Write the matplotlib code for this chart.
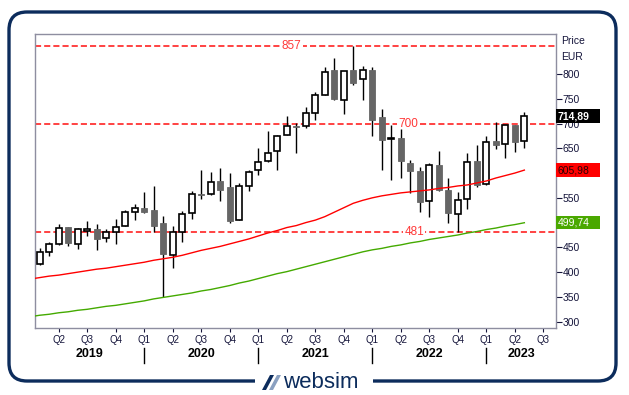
import numpy as np
import matplotlib
matplotlib.use("Agg")
import matplotlib.pyplot as plt
from matplotlib.patches import Rectangle, FancyBboxPatch, Polygon
from matplotlib.transforms import Affine2D, blended_transform_factory

plt.rcParams["font.family"] = ["Liberation Sans", "DejaVu Sans"]

# monthly candles, Feb 2019 .. May 2023 (month index 0 = Jan 2019)
first_month = 1
opens = [416, 440, 456, 491, 457, 484, 487, 468, 481, 494, 521,
         530, 526, 499, 434, 482, 519, 558, 557, 584, 572, 506, 573,
         606, 624, 644, 676, 695, 694, 721, 757, 808, 747, 808, 789,
         808, 713, 668, 670, 620, 604, 544, 616, 566, 517, 548, 624,
         577, 665, 658, 697, 664]
highs = [448, 461, 497, 491, 489, 503, 497, 487, 507, 525, 538,
         561, 574, 513, 493, 523, 563, 606, 602, 611, 600, 579, 606,
         651, 685, 676, 715, 701, 734, 764, 814, 832, 807, 857, 816,
         814, 729, 698, 688, 626, 612, 621, 645, 591, 562, 641, 657,
         675, 703, 697, 697, 723]
lows = [415, 433, 455, 453, 447, 472, 445, 461, 457, 494, 506,
        519, 481, 349, 409, 460, 508, 548, 556, 544, 499, 505, 564,
        597, 623, 607, 676, 640, 690, 707, 757, 747, 720, 777, 748,
        674, 607, 587, 591, 559, 522, 511, 563, 500, 481, 527, 572,
        576, 649, 631, 643, 651]
closes = [440, 456, 490, 458, 487, 487, 466, 481, 492, 521, 529,
          522, 493, 437, 482, 517, 557, 556, 581, 566, 503, 573, 602,
          622, 640, 674, 694, 693, 721, 757, 803, 750, 805, 782, 808,
          708, 666, 670, 624, 604, 542, 616, 566, 519, 546, 622, 575,
          662, 657, 696, 663, 714.89]

# moving averages, Jan 2019 .. May 2023
red_ma = [386, 389, 392, 394, 397, 400, 403, 406, 408, 411, 414, 417,
          420, 424, 427, 430, 434, 439, 444, 448, 452, 457, 462, 467,
          473, 479, 484, 490, 494, 500, 505, 512, 521, 530, 539, 545,
          550, 554, 557, 560, 562, 564, 566, 569, 571, 574, 576, 580,
          584, 590, 595, 600, 605.98]
green_ma = [310, 313, 315, 318, 320, 323, 325, 328, 331, 333, 336, 339,
            342, 346, 349, 352, 355, 358, 362, 365, 369, 373, 378, 382,
            387, 392, 397, 401, 406, 411, 416, 421, 426, 431, 436, 441,
            445, 448, 452, 455, 459, 462, 466, 469, 472, 475, 479, 482,
            486, 489, 493, 496, 499.74]

levels = [857, 700, 481]
level_label_x = [27.5, 39.8, 40.4]
years = [2019, 2020, 2021, 2022, 2023]

NAVY = "#0c2c5c"
TXT = "#14143a"

fig = plt.figure(figsize=(6.29, 3.95), dpi=100)
ax = fig.add_axes([0.0561, 0.1689, 0.8274, 0.7443])
x0, x1 = 0.54, 55.3
ax.set_xlim(x0, x1)
ax.set_ylim(286.7, 880.1)

# support / resistance levels
for v, lx in zip(levels, level_label_x):
    ax.axhline(v, color="#ff1010", lw=1.1, dashes=(4, 2), zorder=1)
    ax.text(lx, v, f"{v}", color="#ff3838", fontsize=8.5, ha="center",
            va="center", zorder=2,
            bbox=dict(fc="white", ec="none", pad=1))

# candles
xs = np.arange(len(opens)) + first_month
o = np.array(opens); c = np.array(closes)
h = np.array(highs); l = np.array(lows)
up = c >= o
ax.vlines(xs, l, h, color="black", lw=1.0, zorder=3)
body_lo = np.minimum(o, c)
body_h = np.maximum(np.abs(c - o), 1.5)
ax.bar(xs[up], body_h[up], bottom=body_lo[up], width=0.66,
       color="white", edgecolor="black", linewidth=1.2, zorder=4)
ax.bar(xs[~up], body_h[~up], bottom=body_lo[~up], width=0.66,
       color="#666666", edgecolor="#666666", linewidth=0.6, zorder=4)

# moving averages
ma_x = np.arange(len(red_ma))
ax.plot(ma_x, red_ma, color="#ff0000", lw=1.0, zorder=5)
ax.plot(ma_x, green_ma, color="#44aa00", lw=1.0, zorder=5)

# frame
for s in ax.spines.values():
    s.set_color("#8e8ea0")
    s.set_linewidth(1.0)

# right price axis
ax.yaxis.tick_right()
ax.set_yticks(range(300, 801, 50))
ax.tick_params(axis="y", direction="out", length=4, width=0.8, colors=TXT,
               labelsize=7.5, pad=1)

# quarter ticks
qticks = list(range(3, 55, 3))
ax.set_xticks(qticks)
ax.set_xticklabels([f"Q{(m % 12) // 3 + 1}" for m in qticks])
ax.tick_params(axis="x", direction="out", length=3, width=0.8, colors=TXT,
               labelsize=7, pad=2)

# year labels and separators
btrans = blended_transform_factory(ax.transData, ax.transAxes)
for yr in years:
    start = 12 * (yr - 2019)
    a, b = max(x0, start), min(x1, start + 12)
    ax.annotate(str(yr), xy=((a + b) / 2, 0),
                xycoords=("data", "axes fraction"), xytext=(0, -18.5),
                textcoords="offset points", ha="center", va="center",
                fontsize=9, fontweight="bold", color="black")
    if yr > 2019:
        ax.plot([start, start], [-0.066, -0.117], transform=btrans,
                color="black", lw=1.0, clip_on=False)

# last-value boxes on the price axis
rtrans = blended_transform_factory(ax.transAxes, ax.transData)
box_w = 44 / 520.4
for val, fc, tc, fw in [(closes[-1], "black", "white", "bold"),
                        (red_ma[-1], "#ff0000", "#2a0000", "normal"),
                        (green_ma[-1], "#4aa800", "white", "normal")]:
    ax.add_patch(Rectangle((1.0, val - 13.5), box_w, 27, transform=rtrans,
                           fc=fc, ec="none", clip_on=False, zorder=10))
    ax.text(1.003, val, f"{val:.2f}".replace(".", ","), transform=rtrans,
            color=tc, fontsize=7.5, fontweight=fw, ha="left", va="center",
            zorder=11, clip_on=False)

fig.text(561 / 629, 1 - 41 / 395, "Price", fontsize=7.5, color=TXT,
         ha="left", va="center")
fig.text(561 / 629, 1 - 57 / 395, "EUR", fontsize=7.5, color=TXT,
         ha="left", va="center")

# outer rounded border with logo (pixel coords, origin top-left)
px = (Affine2D().scale(1, -1).translate(0, 395)
      + Affine2D().scale(1 / 629, 1 / 395) + fig.transFigure)
fig.patches.append(FancyBboxPatch((9, 12), 607, 369,
                                  boxstyle="round,pad=0,rounding_size=18",
                                  fc="none", ec=NAVY, lw=2.4, transform=px))
fig.patches.append(Rectangle((255, 374), 118, 14, fc="white", ec="none",
                             transform=px))
fig.patches.append(Polygon([(262, 390), (266, 390), (274, 375), (270, 375)],
                           closed=True, fc=NAVY, ec="none", transform=px))
fig.patches.append(Polygon([(269, 390), (273, 390), (281, 375), (277, 375)],
                           closed=True, fc="#8aa0c0", ec="none", transform=px))
fig.text(283 / 629, 1 - 382 / 395, "websim", fontsize=16, color=NAVY,
         ha="left", va="center")

fig.savefig("out.png", dpi=100)
